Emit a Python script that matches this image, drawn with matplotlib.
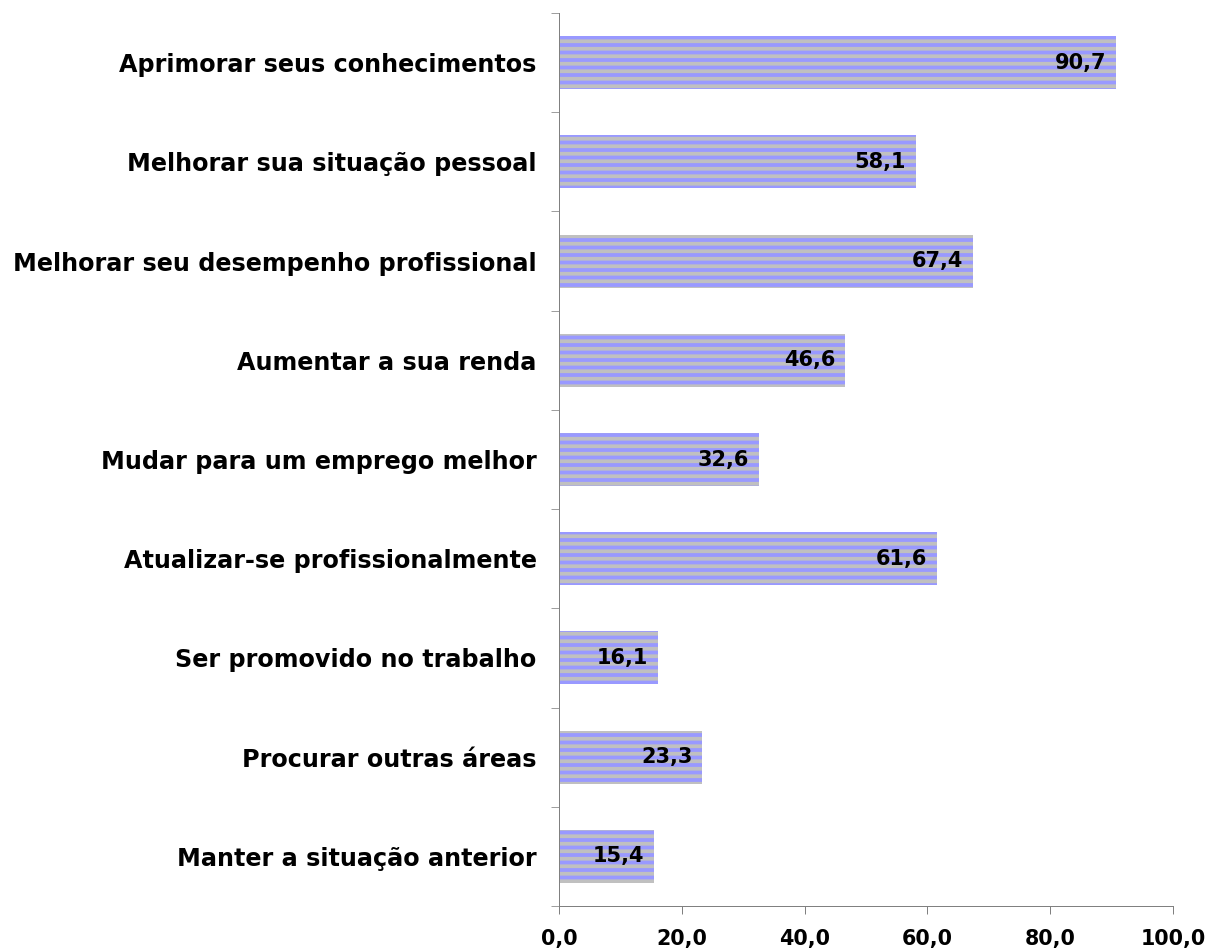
import numpy as np
import matplotlib.pyplot as plt

categorias = ['Aprimorar seus conhecimentos', 'Melhorar sua situação pessoal',
              'Melhorar seu desempenho profissional', 'Aumentar a sua renda',
              'Mudar para um emprego melhor', 'Atualizar-se profissionalmente',
              'Ser promovido no trabalho', 'Procurar outras áreas',
              'Manter a situação anterior']
valores = [90.7, 58.1, 67.4, 46.6, 32.6, 61.6, 16.1, 23.3, 15.4]
xticks = [0, 20, 40, 60, 80, 100]

# dpi 90 so the '--' hatch stripes come out ~7.5 px apart like the original
DPI = 90
plt.rcParams['font.family'] = 'DejaVu Sans'
plt.rcParams['hatch.linewidth'] = 3.0

fig = plt.figure(figsize=(1208 / DPI, 949 / DPI), dpi=DPI)
ax = fig.add_axes([0.4627, 0.0453, 0.5083, 0.941])

y = np.arange(len(categorias))
bars = ax.barh(y, valores, height=0.535, color='#9999FF', edgecolor='#C0C0C0',
               linewidth=0, hatch='--')

for b, v in zip(bars, valores):
    ax.annotate(f'{v:.1f}'.replace('.', ','), (b.get_width(), b.get_y() + b.get_height() / 2),
                xytext=(-7.8, 0), textcoords='offset points', ha='right', va='center',
                fontsize=16.7, fontweight='bold')

ax.set_xlim(0, 100)
ax.set_ylim(len(categorias) - 0.5, -0.5)
ax.set_xticks(xticks)
ax.set_xticklabels([f'{t:.1f}'.replace('.', ',') for t in xticks], fontsize=16.5, fontweight='bold')
ax.set_yticks(y)
ax.set_yticklabels(categorias, fontsize=19.1, fontweight='bold')
ax.set_yticks(np.arange(len(categorias) + 1) - 0.5, minor=True)
ax.tick_params(axis='y', which='major', length=0, pad=17.8)
ax.tick_params(axis='y', which='minor', length=6.7, color='#808080', direction='out')
ax.tick_params(axis='x', length=6.7, color='#808080', pad=11.5)

for s in ['top', 'right']:
    ax.spines[s].set_visible(False)
for s in ['left', 'bottom']:
    ax.spines[s].set_color('#808080')

plt.savefig('out.png', dpi=DPI)
